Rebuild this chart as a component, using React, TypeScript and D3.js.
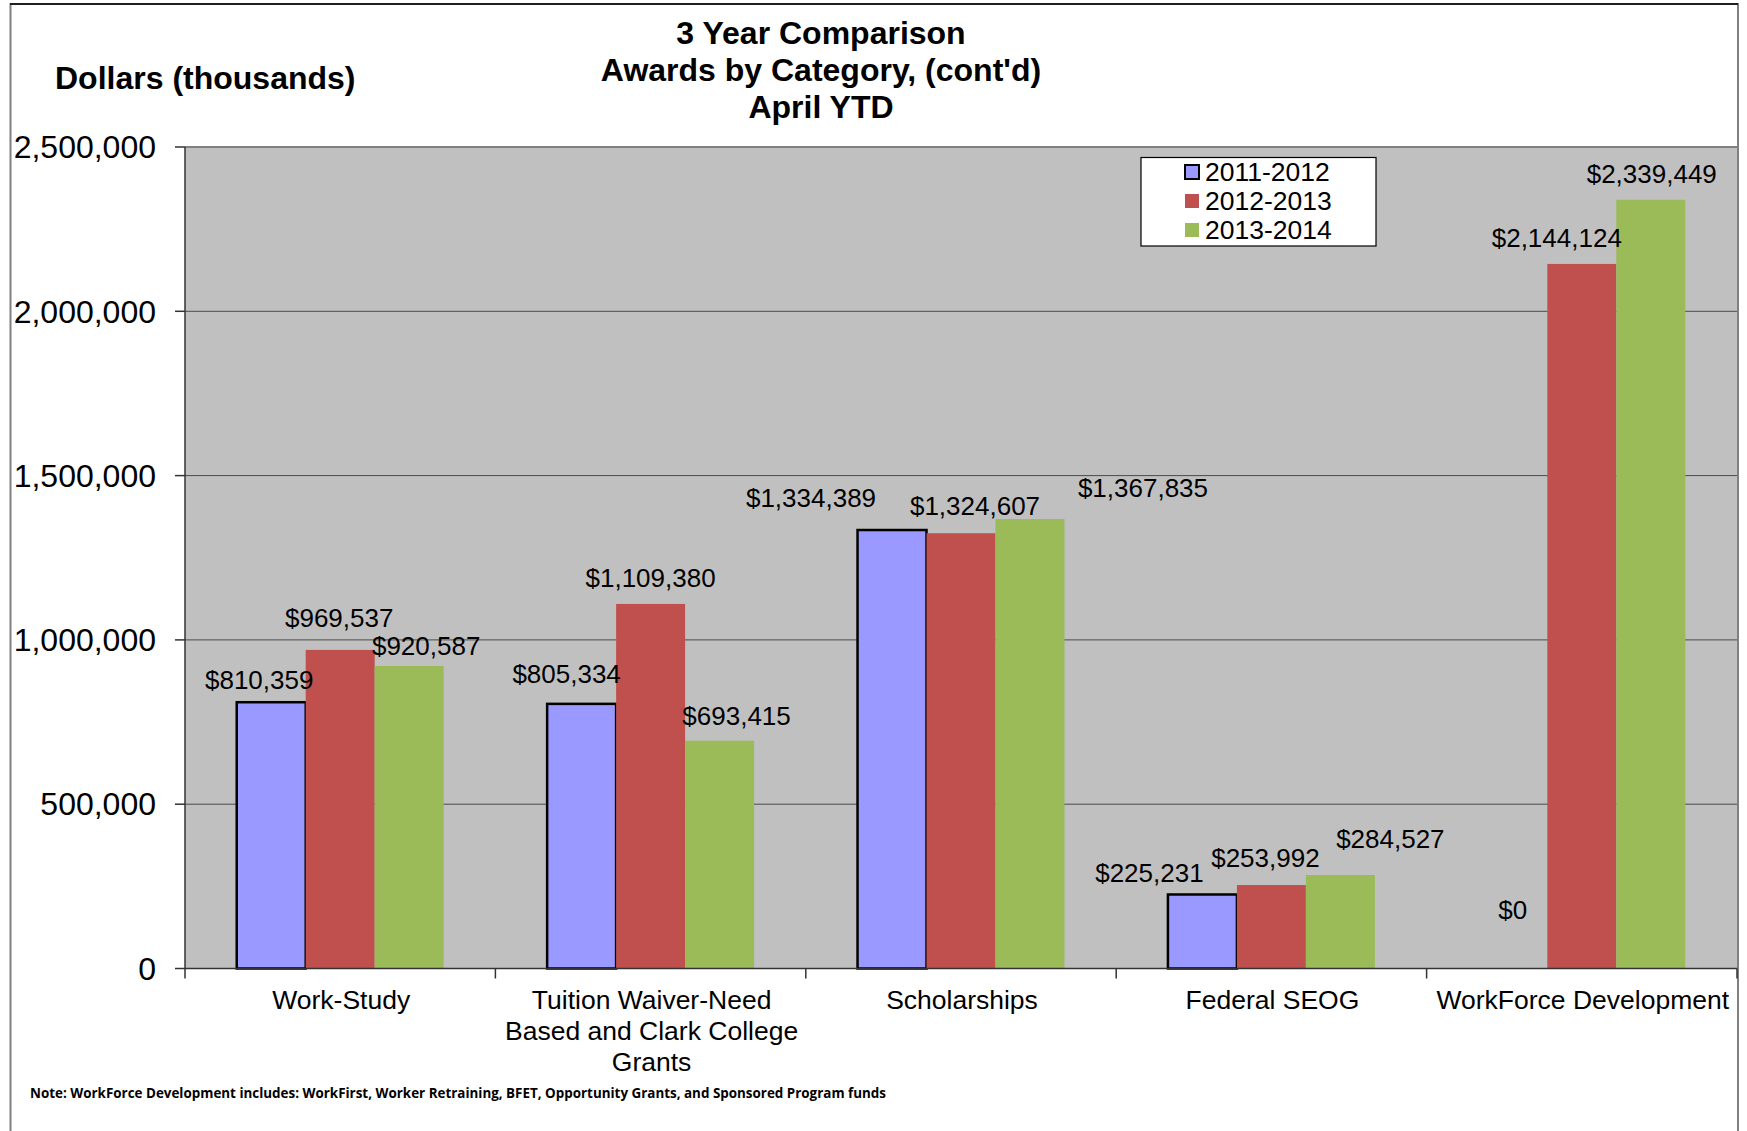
import React from "react";
import * as d3 from "d3";

// chart values
const categoryLines = [
  ["Work-Study"],
  ["Tuition Waiver-Need", "Based and Clark College", "Grants"],
  ["Scholarships"],
  ["Federal SEOG"],
  ["WorkForce Development"],
];
const seriesNames = ["2011-2012", "2012-2013", "2013-2014"];
const awards2011 = [810359, 805334, 1334389, 225231, 0];
const awards2012 = [969537, 1109380, 1324607, 253992, 2144124];
const awards2013 = [920587, 693415, 1367835, 284527, 2339449];
const yTicks = [0, 500000, 1000000, 1500000, 2000000, 2500000];
const titleLines = ["3 Year Comparison", "Awards by Category, (cont'd)", "April YTD"];
const noteText =
  "Note: WorkForce Development includes: WorkFirst, Worker Retraining, BFET, Opportunity Grants, and Sponsored Program funds";

// labels were dragged around by hand in the original, so keep their nudges (px)
const labelDx = [
  [-12, -15, -81, -53, 0],
  [-1, 0, 14, -6, -25],
  [17, 17, 113, 50, 1],
];
const labelDy = [
  [-22, -30, -32, -22, -59],
  [-32, -26, -27, -27, -26],
  [-20, -25, -31, -36, -26],
];

const colors = ["#9999FF", "#C0504D", "#9BBB59"];
const FONT = "'Liberation Sans', Arial, sans-serif";

export default function App() {
  const W = 1747;
  const H = 1131;
  const plot = { left: 185, right: 1737, top: 147, bottom: 968.5 };
  const series = [awards2011, awards2012, awards2013];

  const x0 = d3
    .scaleBand<number>()
    .domain(d3.range(categoryLines.length))
    .range([plot.left, plot.right])
    .paddingInner(0)
    .paddingOuter(0);
  const x1 = d3
    .scaleBand<number>()
    .domain(d3.range(seriesNames.length))
    .range([0, x0.bandwidth()])
    .paddingInner(0)
    .paddingOuter(0.75);
  const y = d3.scaleLinear().domain([0, 2500000]).range([plot.bottom, plot.top]);
  const fmt = d3.format(",");

  const groupEdges = d3.range(categoryLines.length + 1).map((i) =>
    i < categoryLines.length ? (x0(i) as number) : plot.right
  );

  return (
    <svg
      width={W}
      height={H}
      style={{ position: "absolute", left: 0, top: 0, background: "#fff" }}
      fontFamily={FONT}
    >
      {/* outer frame */}
      <rect x={10.5} y={4} width={1727.5} height={1140} fill="#fff" stroke="#808080" strokeWidth={2} />
      <line x1={10} x2={1738} y1={4} y2={4} stroke="#000" strokeWidth={1.5} />

      {/* plot area */}
      <rect x={plot.left} y={plot.top} width={plot.right - plot.left} height={plot.bottom - plot.top} fill="#C0C0C0" />
      <line x1={plot.left} x2={plot.right} y1={plot.top} y2={plot.top} stroke="#808080" strokeWidth={2} />

      {/* grid + y axis */}
      {yTicks.map((t) => (
        <g key={t}>
          {t > 0 && t < 2500000 && (
            <line x1={plot.left} x2={plot.right} y1={y(t)} y2={y(t)} stroke="#4a4a4a" strokeWidth={1} />
          )}
          <line x1={plot.left - 10} x2={plot.left} y1={y(t)} y2={y(t)} stroke="#333" strokeWidth={1.5} />
          <text x={156} y={y(t)} dy="0.35em" textAnchor="end" fontSize={32} fill="#000">
            {fmt(t)}
          </text>
        </g>
      ))}
      <line x1={plot.left} x2={plot.left} y1={plot.top} y2={plot.bottom} stroke="#333" strokeWidth={1.5} />

      {/* bars */}
      {series.map((vals, s) =>
        vals.map((v, i) => {
          const bx = (x0(i) as number) + (x1(s) as number);
          const bw = x1.bandwidth();
          if (v === 0) return null;
          return (
            <rect
              key={`b${s}-${i}`}
              x={bx}
              y={y(v)}
              width={bw}
              height={y(0) - y(v)}
              fill={colors[s]}
              stroke={s === 0 ? "#000" : "none"}
              strokeWidth={s === 0 ? 2.5 : 0}
            />
          );
        })
      )}

      {/* x axis */}
      <line x1={plot.left} x2={plot.right} y1={plot.bottom} y2={plot.bottom} stroke="#333" strokeWidth={1.5} />
      {groupEdges.map((gx, i) => (
        <line key={`t${i}`} x1={gx} x2={gx} y1={plot.bottom} y2={plot.bottom + 10} stroke="#333" strokeWidth={1.5} />
      ))}
      {categoryLines.map((lines, i) => (
        <text key={`c${i}`} textAnchor="middle" fontSize={26.5} fill="#000">
          {lines.map((ln, k) => (
            <tspan key={k} x={(x0(i) as number) + x0.bandwidth() / 2 + 1} y={1009 + k * 31}>
              {ln}
            </tspan>
          ))}
        </text>
      ))}

      {/* data labels */}
      {series.map((vals, s) =>
        vals.map((v, i) => {
          const cx = (x0(i) as number) + (x1(s) as number) + x1.bandwidth() / 2 + labelDx[s][i];
          const cy = y(v) + labelDy[s][i];
          return (
            <text key={`l${s}-${i}`} x={cx} y={cy} dy="0.35em" textAnchor="middle" fontSize={26} fill="#000">
              {"$" + fmt(v)}
            </text>
          );
        })
      )}

      {/* legend */}
      <rect x={1141} y={157.5} width={235} height={88.5} fill="#fff" stroke="#000" strokeWidth={1.2} />
      {seriesNames.map((name, s) => (
        <g key={name}>
          <rect
            x={1185}
            y={165 + s * 29}
            width={14}
            height={14}
            fill={colors[s]}
            stroke={s === 0 ? "#000" : "none"}
            strokeWidth={s === 0 ? 2 : 0}
          />
          <text x={1205} y={172 + s * 29} dy="0.35em" fontSize={26.5} fill="#000">
            {name}
          </text>
        </g>
      ))}

      {/* titles */}
      {titleLines.map((t, k) => (
        <text key={t} x={821} y={44 + k * 37} textAnchor="middle" fontSize={32} fontWeight="bold" fill="#000">
          {t}
        </text>
      ))}
      <text x={55} y={89} fontSize={32} fontWeight="bold" fill="#000">
        Dollars (thousands)
      </text>

      {/* footnote */}
      <text
        x={30}
        y={1093}
        dy="0.35em"
        fontSize={13.5}
        fontWeight="bold"
        fontFamily="'Open Sans', sans-serif"
        textLength={856}
        lengthAdjust="spacingAndGlyphs"
        fill="#000"
      >
        {noteText}
      </text>
    </svg>
  );
}
